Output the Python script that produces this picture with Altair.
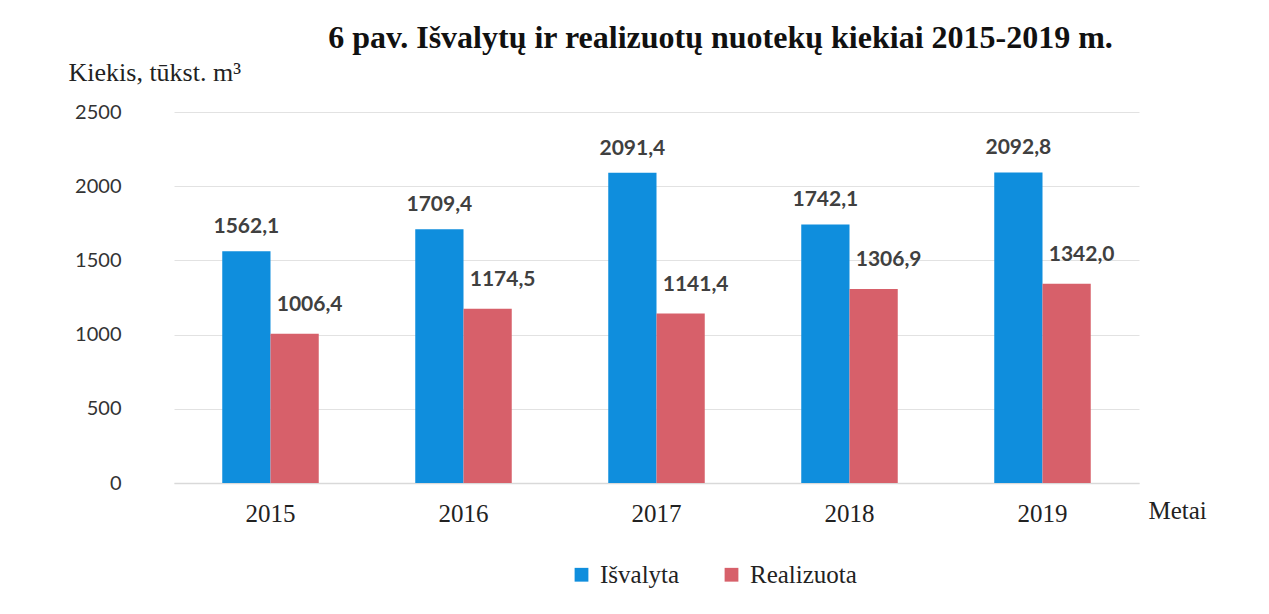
import altair as alt
import pandas as pd

years = ["2015", "2016", "2017", "2018", "2019"]
isvalyta = [1562.1, 1709.4, 2091.4, 1742.1, 2092.8]
realizuota = [1006.4, 1174.5, 1141.4, 1306.9, 1342.0]
series = ["Išvalyta", "Realizuota"]
colors = ["#0F8EDD", "#D7606A"]

rows = []
for y, a, b in zip(years, isvalyta, realizuota):
    for s, v in zip(series, [a, b]):
        rows.append({"Metai": y, "Serija": s, "Kiekis": v,
                     "Etiketė": f"{v:.1f}".replace(".", ",")})
df = pd.DataFrame(rows)

SERIF = "Liberation Serif"
SANS = "Lato"

x = alt.X("Metai:N", sort=years,
          scale=alt.Scale(paddingInner=0, paddingOuter=0),
          axis=alt.Axis(labelAngle=0, labelFont=SERIF, labelFontSize=25,
                        labelColor="#222222", ticks=False, labelPadding=18,
                        domainColor="#d9d9d9", domainWidth=1.5,
                        title="Metai", titleFont=SERIF, titleFontSize=25,
                        titleFontWeight="normal", titleColor="#222222",
                        titleX=974, titleY=35, titleAlign="left",
                        titleBaseline="alphabetic"))
xo = alt.XOffset("Serija:N", sort=series,
                 scale=alt.Scale(paddingInner=0, paddingOuter=1.0))
y = alt.Y("Kiekis:Q", scale=alt.Scale(domain=[0, 2500]),
          axis=alt.Axis(values=[0, 500, 1000, 1500, 2000, 2500], format="d",
                        labelFont=SANS, labelFontSize=20, labelColor="#333333",
                        ticks=False, domain=False, labelPadding=53,
                        gridColor="#e2e2e2", gridWidth=1,
                        title="Kiekis, tūkst. m³", titleFont=SERIF,
                        titleFontSize=26, titleFontWeight="normal",
                        titleColor="#222222", titleAngle=0, titleX=-106,
                        titleY=-32, titleAlign="left",
                        titleBaseline="alphabetic"))
color = alt.Color("Serija:N", sort=series,
                  scale=alt.Scale(domain=series, range=colors),
                  legend=alt.Legend(title=None, orient="none", direction="horizontal",
                                    legendX=395, legendY=450,
                                    labelFont=SERIF, labelFontSize=25,
                                    labelColor="#222222", symbolType="square",
                                    symbolSize=190, symbolStrokeWidth=0,
                                    labelOffset=6, columnPadding=39))

base = alt.Chart(df)
bars = base.mark_bar().encode(x=x, xOffset=xo, y=y, color=color)
lab_b = base.transform_filter(alt.datum.Serija == "Išvalyta").mark_text(
    font=SANS, fontSize=21, fontWeight="bold", color="#404040",
    baseline="bottom", dy=-14).encode(x=x, xOffset=xo, y=y, text="Etiketė:N")
lab_r = base.transform_filter(alt.datum.Serija == "Realizuota").mark_text(
    font=SANS, fontSize=21, fontWeight="bold", color="#404040",
    baseline="bottom", dy=-19, dx=15).encode(x=x, xOffset=xo, y=y, text="Etiketė:N")

chart = alt.layer(bars, lab_b, lab_r).properties(
    width=965, height=371,
    background="white",
    autosize=alt.AutoSizeParams(type="none"),
    padding={"left": 166, "top": 104, "right": 118, "bottom": 115},
    title=alt.TitleParams("6 pav. Išvalytų ir realizuotų nuotekų kiekiai 2015-2019 m.",
                          font=SERIF, fontSize=32, fontWeight="bold",
                          color="#111111", anchor="middle", dx=64, offset=4),
).configure_view(stroke=None)

chart.save("out.html", embed_options={"renderer": "svg", "actions": False})
